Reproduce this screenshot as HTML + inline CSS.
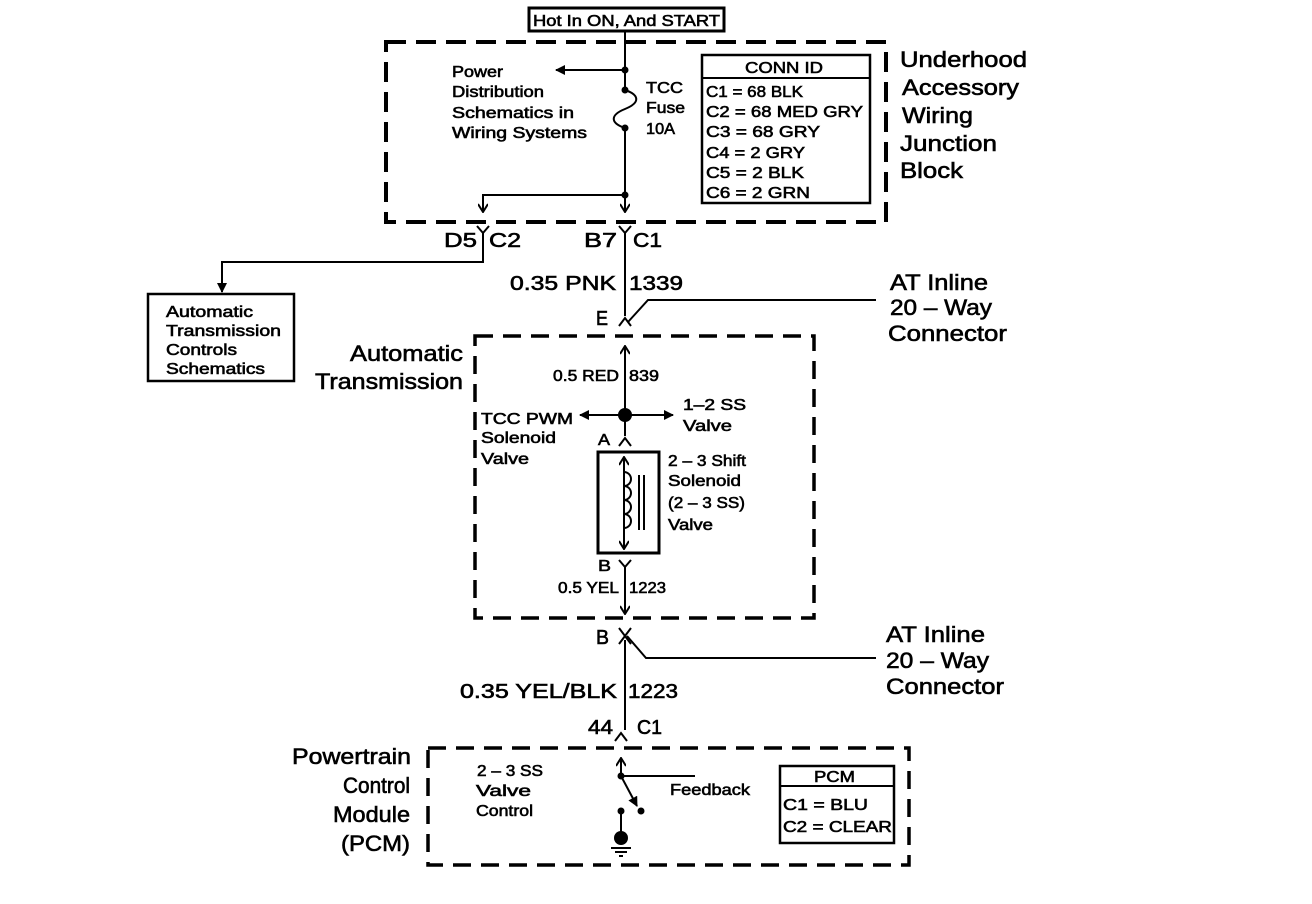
<!DOCTYPE html>
<html><head><meta charset="utf-8"><style>
html,body{margin:0;padding:0;background:#fff}
svg{display:block}
text{font-family:"Liberation Sans",Arial,sans-serif;fill:#000;stroke:#000;stroke-width:0.6}
</style></head><body>
<svg width="1312" height="904" viewBox="0 0 1312 904" xmlns="http://www.w3.org/2000/svg">
<defs>
<marker id="ah" markerWidth="10" markerHeight="10" refX="9" refY="5" orient="auto" markerUnits="userSpaceOnUse"><path d="M0,0 L10,5 L0,10 z" fill="#000"/></marker>
<marker id="ao" markerWidth="10" markerHeight="10" refX="9" refY="5" orient="auto" markerUnits="userSpaceOnUse"><path d="M1,0 L9,5 L1,10" fill="none" stroke="#000" stroke-width="2"/></marker>
</defs>
<g fill="none" stroke="#000">
<rect x="386" y="42" width="500" height="180" stroke-width="4" stroke-dasharray="20,10"/>
<rect x="475" y="336" width="339" height="282" stroke-width="3.5" stroke-dasharray="18,10"/>
<rect x="428" y="748" width="481" height="117" stroke-width="3.5" stroke-dasharray="18,10"/>
<rect x="529" y="8" width="195" height="23" stroke-width="3"/>
<rect x="702" y="55" width="168" height="148" stroke-width="2.5"/>
<line x1="702" y1="78" x2="870" y2="78" stroke-width="2"/>
<rect x="780" y="766" width="114" height="77" stroke-width="2.5"/>
<line x1="780" y1="786" x2="894" y2="786" stroke-width="2"/>
<rect x="148" y="294" width="146" height="87" stroke-width="2.5"/>
<g stroke-width="2">
<line x1="625" y1="31" x2="625" y2="90"/>
<path d="M625,90 C640,95 640,103 625,109 C610,115 610,123 625,128"/>
<line x1="625" y1="128" x2="625" y2="212" marker-end="url(#ao)"/>
<line x1="625" y1="70" x2="556" y2="70" marker-end="url(#ah)"/>
<polyline points="625,195 483,195 483,212" marker-end="url(#ao)"/>
<path d="M477,226 L483,233 L489,226"/>
<polyline points="483,233 483,262 222,262 222,292" marker-end="url(#ah)"/>
<path d="M619,226 L625,233 L631,226 M625,233 L625,316"/>
<path d="M619,326 L625,318 L631,326"/>
<polyline points="628,322 648,300 876,300"/>
<line x1="625" y1="436" x2="625" y2="346" marker-end="url(#ao)"/>
<line x1="625" y1="415" x2="580" y2="415" marker-end="url(#ah)"/>
<line x1="625" y1="415" x2="673" y2="415" marker-end="url(#ah)"/>
<path d="M619,446 L625,438 L631,446"/>
<rect x="598" y="452" width="61" height="101" stroke-width="3"/>
<line x1="624" y1="548" x2="624" y2="457" marker-end="url(#ao)"/>
<line x1="624" y1="460" x2="624" y2="549" marker-end="url(#ao)"/>
<path d="M624,472 a7,7 0 0 1 0,14 a7,7 0 0 1 0,14 a7,7 0 0 1 0,14 a7,7 0 0 1 0,14"/>
<line x1="639" y1="475" x2="639" y2="530"/>
<line x1="644" y1="475" x2="644" y2="530"/>
<path d="M619,560 L625,567 L631,560"/>
<line x1="625" y1="567" x2="625" y2="614" marker-end="url(#ao)"/>
<path d="M619,628 L625,636 L631,628 M619,644 L625,636 L631,644"/>
<polyline points="627,636 646,658 876,658"/>
<line x1="625" y1="640" x2="625" y2="730"/>
<path d="M615,741 L621,733 L627,741"/>
<line x1="621" y1="776" x2="621" y2="758" marker-end="url(#ao)"/>
<line x1="621" y1="776" x2="695" y2="776"/>
<line x1="621" y1="776" x2="637" y2="806" marker-end="url(#ah)"/>
<line x1="621" y1="811" x2="621" y2="836"/>
<line x1="611" y1="848" x2="631" y2="848"/>
<line x1="615" y1="852" x2="627" y2="852"/>
<line x1="619" y1="856" x2="623" y2="856"/>
</g>
</g>
<g fill="#000">
<circle cx="625" cy="70" r="3.5"/><circle cx="625" cy="90" r="3.5"/><circle cx="625" cy="128" r="3.5"/><circle cx="625" cy="195" r="3.5"/>
<circle cx="625" cy="415" r="7"/>
<circle cx="621" cy="776" r="3.5"/><circle cx="641" cy="811" r="3.5"/><circle cx="621" cy="811" r="3.5"/>
<circle cx="621" cy="838" r="7"/>
</g>
<g font-size="16">
<text x="533" y="26" textLength="187" lengthAdjust="spacingAndGlyphs">Hot In ON, And START</text>
<text x="452" y="77" textLength="51" lengthAdjust="spacingAndGlyphs">Power</text>
<text x="452" y="97" textLength="92" lengthAdjust="spacingAndGlyphs">Distribution</text>
<text x="452" y="118" textLength="122" lengthAdjust="spacingAndGlyphs">Schematics in</text>
<text x="452" y="138" textLength="135" lengthAdjust="spacingAndGlyphs">Wiring Systems</text>
<text x="646" y="93" textLength="37" lengthAdjust="spacingAndGlyphs">TCC</text>
<text x="646" y="113" textLength="39" lengthAdjust="spacingAndGlyphs">Fuse</text>
<text x="646" y="134" textLength="29" lengthAdjust="spacingAndGlyphs">10A</text>
<text x="745" y="73" textLength="78" lengthAdjust="spacingAndGlyphs">CONN ID</text>
<text x="706" y="97" textLength="97" lengthAdjust="spacingAndGlyphs">C1 = 68 BLK</text>
<text x="706" y="117" textLength="157" lengthAdjust="spacingAndGlyphs">C2 = 68 MED GRY</text>
<text x="706" y="137" textLength="114" lengthAdjust="spacingAndGlyphs">C3 = 68 GRY</text>
<text x="706" y="158" textLength="99" lengthAdjust="spacingAndGlyphs">C4 = 2 GRY</text>
<text x="706" y="178" textLength="98" lengthAdjust="spacingAndGlyphs">C5 = 2 BLK</text>
<text x="706" y="198" textLength="104" lengthAdjust="spacingAndGlyphs">C6 = 2 GRN</text>
<text x="166" y="317" textLength="87" lengthAdjust="spacingAndGlyphs">Automatic</text>
<text x="166" y="336" textLength="115" lengthAdjust="spacingAndGlyphs">Transmission</text>
<text x="166" y="355" textLength="71" lengthAdjust="spacingAndGlyphs">Controls</text>
<text x="166" y="374" textLength="99" lengthAdjust="spacingAndGlyphs">Schematics</text>
<text x="553" y="381" textLength="66" lengthAdjust="spacingAndGlyphs">0.5 RED</text>
<text x="629" y="381" textLength="30" lengthAdjust="spacingAndGlyphs">839</text>
<text x="481" y="424" textLength="92" lengthAdjust="spacingAndGlyphs">TCC PWM</text>
<text x="481" y="443" textLength="75" lengthAdjust="spacingAndGlyphs">Solenoid</text>
<text x="481" y="464" textLength="48" lengthAdjust="spacingAndGlyphs">Valve</text>
<text x="683" y="410" textLength="63" lengthAdjust="spacingAndGlyphs">1–2 SS</text>
<text x="683" y="431" textLength="49" lengthAdjust="spacingAndGlyphs">Valve</text>
<text x="598" y="445" textLength="12" lengthAdjust="spacingAndGlyphs">A</text>
<text x="668" y="466" textLength="78" lengthAdjust="spacingAndGlyphs">2 – 3 Shift</text>
<text x="668" y="486" textLength="73" lengthAdjust="spacingAndGlyphs">Solenoid</text>
<text x="668" y="508" textLength="77" lengthAdjust="spacingAndGlyphs">(2 – 3 SS)</text>
<text x="668" y="530" textLength="45" lengthAdjust="spacingAndGlyphs">Valve</text>
<text x="598" y="571" textLength="13" lengthAdjust="spacingAndGlyphs">B</text>
<text x="558" y="593" textLength="61" lengthAdjust="spacingAndGlyphs">0.5 YEL</text>
<text x="629" y="593" textLength="37" lengthAdjust="spacingAndGlyphs">1223</text>
<text x="477" y="776" textLength="66" lengthAdjust="spacingAndGlyphs">2 – 3 SS</text>
<text x="476" y="796" textLength="55" lengthAdjust="spacingAndGlyphs">Valve</text>
<text x="476" y="816" textLength="57" lengthAdjust="spacingAndGlyphs">Control</text>
<text x="670" y="795" textLength="80" lengthAdjust="spacingAndGlyphs">Feedback</text>
<text x="814" y="782" textLength="41" lengthAdjust="spacingAndGlyphs">PCM</text>
<text x="783" y="810" textLength="85" lengthAdjust="spacingAndGlyphs">C1 = BLU</text>
<text x="783" y="832" textLength="109" lengthAdjust="spacingAndGlyphs">C2 = CLEAR</text>
</g>
<g font-size="20">
<text x="444" y="247" textLength="33" lengthAdjust="spacingAndGlyphs">D5</text>
<text x="489" y="247" textLength="32" lengthAdjust="spacingAndGlyphs">C2</text>
<text x="584" y="247" textLength="33" lengthAdjust="spacingAndGlyphs">B7</text>
<text x="633" y="247" textLength="29" lengthAdjust="spacingAndGlyphs">C1</text>
<text x="510" y="290" textLength="106" lengthAdjust="spacingAndGlyphs">0.35 PNK</text>
<text x="629" y="290" textLength="54" lengthAdjust="spacingAndGlyphs">1339</text>
<text x="596" y="325" textLength="12" lengthAdjust="spacingAndGlyphs">E</text>
<text x="596" y="644" textLength="13" lengthAdjust="spacingAndGlyphs">B</text>
<text x="460" y="698" textLength="157" lengthAdjust="spacingAndGlyphs">0.35 YEL/BLK</text>
<text x="628" y="698" textLength="50" lengthAdjust="spacingAndGlyphs">1223</text>
<text x="588" y="734" textLength="25" lengthAdjust="spacingAndGlyphs">44</text>
<text x="637" y="734" textLength="25" lengthAdjust="spacingAndGlyphs">C1</text>
</g>
<g font-size="22">
<text x="900" y="67" textLength="127" lengthAdjust="spacingAndGlyphs">Underhood</text>
<text x="902" y="95" textLength="117" lengthAdjust="spacingAndGlyphs">Accessory</text>
<text x="902" y="123" textLength="71" lengthAdjust="spacingAndGlyphs">Wiring</text>
<text x="900" y="151" textLength="97" lengthAdjust="spacingAndGlyphs">Junction</text>
<text x="900" y="178" textLength="63" lengthAdjust="spacingAndGlyphs">Block</text>
<text x="890" y="290" textLength="98" lengthAdjust="spacingAndGlyphs">AT Inline</text>
<text x="890" y="315" textLength="102" lengthAdjust="spacingAndGlyphs">20 – Way</text>
<text x="888" y="341" textLength="119" lengthAdjust="spacingAndGlyphs">Connector</text>
<text x="350" y="361" textLength="113" lengthAdjust="spacingAndGlyphs">Automatic</text>
<text x="315" y="389" textLength="148" lengthAdjust="spacingAndGlyphs">Transmission</text>
<text x="886" y="642" textLength="99" lengthAdjust="spacingAndGlyphs">AT Inline</text>
<text x="886" y="668" textLength="103" lengthAdjust="spacingAndGlyphs">20 – Way</text>
<text x="886" y="694" textLength="118" lengthAdjust="spacingAndGlyphs">Connector</text>
<text x="292" y="764" textLength="119" lengthAdjust="spacingAndGlyphs">Powertrain</text>
<text x="343" y="793" textLength="67" lengthAdjust="spacingAndGlyphs">Control</text>
<text x="333" y="822" textLength="77" lengthAdjust="spacingAndGlyphs">Module</text>
<text x="341" y="851" textLength="69" lengthAdjust="spacingAndGlyphs">(PCM)</text>
</g>
</svg>
</body></html>
